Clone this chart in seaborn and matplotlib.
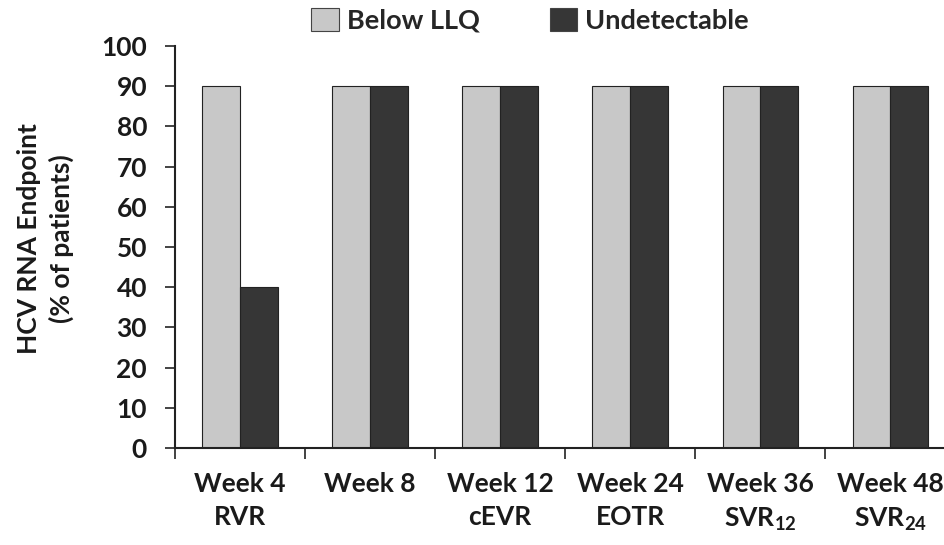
import matplotlib
matplotlib.use("Agg")
import matplotlib.pyplot as plt
import matplotlib.patches as mpatches
import seaborn as sns
import pandas as pd
import numpy as np

# Response endpoints by visit
categories = ["Week 4\nRVR", "Week 8", "Week 12\ncEVR", "Week 24\nEOTR",
              "Week 36\nSVR$_{\\mathbf{12}}$", "Week 48\nSVR$_{\\mathbf{24}}$"]
series_names = ["Below LLQ", "Undetectable"]
below_llq = [90, 90, 90, 90, 90, 90]
undetectable = [40, 90, 90, 90, 90, 90]
y_ticks = [0, 10, 20, 30, 40, 50, 60, 70, 80, 90, 100]

colors = {"Below LLQ": "#c8c8c8", "Undetectable": "#363636"}
text_color = "#1a1a1a"
fs = 19

df = pd.DataFrame({
    "Visit": categories * 2,
    "Endpoint": [series_names[0]] * len(categories) + [series_names[1]] * len(categories),
    "Percent": below_llq + undetectable,
})

sns.set_theme(style="white")
plt.rcParams["font.family"] = ["Lato", "DejaVu Sans"]
plt.rcParams["font.weight"] = "bold"
plt.rcParams["mathtext.fontset"] = "custom"
plt.rcParams["mathtext.rm"] = "Lato"
plt.rcParams["mathtext.bf"] = "Lato:bold"

fig = plt.figure(figsize=(9.45, 5.45), dpi=100)
ax = fig.add_axes([0.185, 0.178, 0.815, 0.7376])

sns.barplot(data=df, x="Visit", y="Percent", hue="Endpoint", order=categories,
            hue_order=series_names, palette=colors, width=0.58, gap=0,
            edgecolor="#222222", linewidth=0.8, ax=ax, legend=False)

ax.set_ylim(0, 100)
ax.set_xlim(-0.5, 5.42)
ax.set_yticks(y_ticks)
ax.set_yticklabels([str(t) for t in y_ticks], fontsize=fs, fontweight="bold", color=text_color)

# category labels at centres, tick marks at category boundaries
ax.set_xticks(np.arange(len(categories)))
ax.set_xticklabels(categories, fontsize=fs, fontweight="bold", color=text_color,
                   linespacing=1.45)
ax.set_xticks(np.arange(len(categories)) - 0.5, minor=True)
ax.tick_params(axis="x", which="major", length=0, pad=17)
ax.tick_params(axis="x", which="minor", length=8, width=1.2, color="#222222", direction="out", bottom=True)
ax.tick_params(axis="y", which="major", length=7, width=1.2, color="#222222", direction="out", left=True, pad=13)

ax.set_xlabel("")
ax.set_ylabel("HCV RNA Endpoint\n(% of patients)", fontsize=fs, fontweight="bold",
              color=text_color, linespacing=1.35, va="center")
ax.yaxis.set_label_coords(-0.168, 0.522)

for side in ["top", "right"]:
    ax.spines[side].set_visible(False)
for side in ["left", "bottom"]:
    ax.spines[side].set_color("#222222")
    ax.spines[side].set_linewidth(1.5)

handles = [mpatches.Patch(facecolor=colors[n], edgecolor="#444444", linewidth=0.8, label=n)
           for n in series_names]
fig.legend(handles=handles, loc="upper center", bbox_to_anchor=(0.561, 1.03), ncol=2,
           frameon=False, prop={"weight": "bold", "size": 19.5},
           handlelength=1.0, handleheight=0.9, columnspacing=2.6, handletextpad=0.3)

fig.savefig("out.png", dpi=100)
